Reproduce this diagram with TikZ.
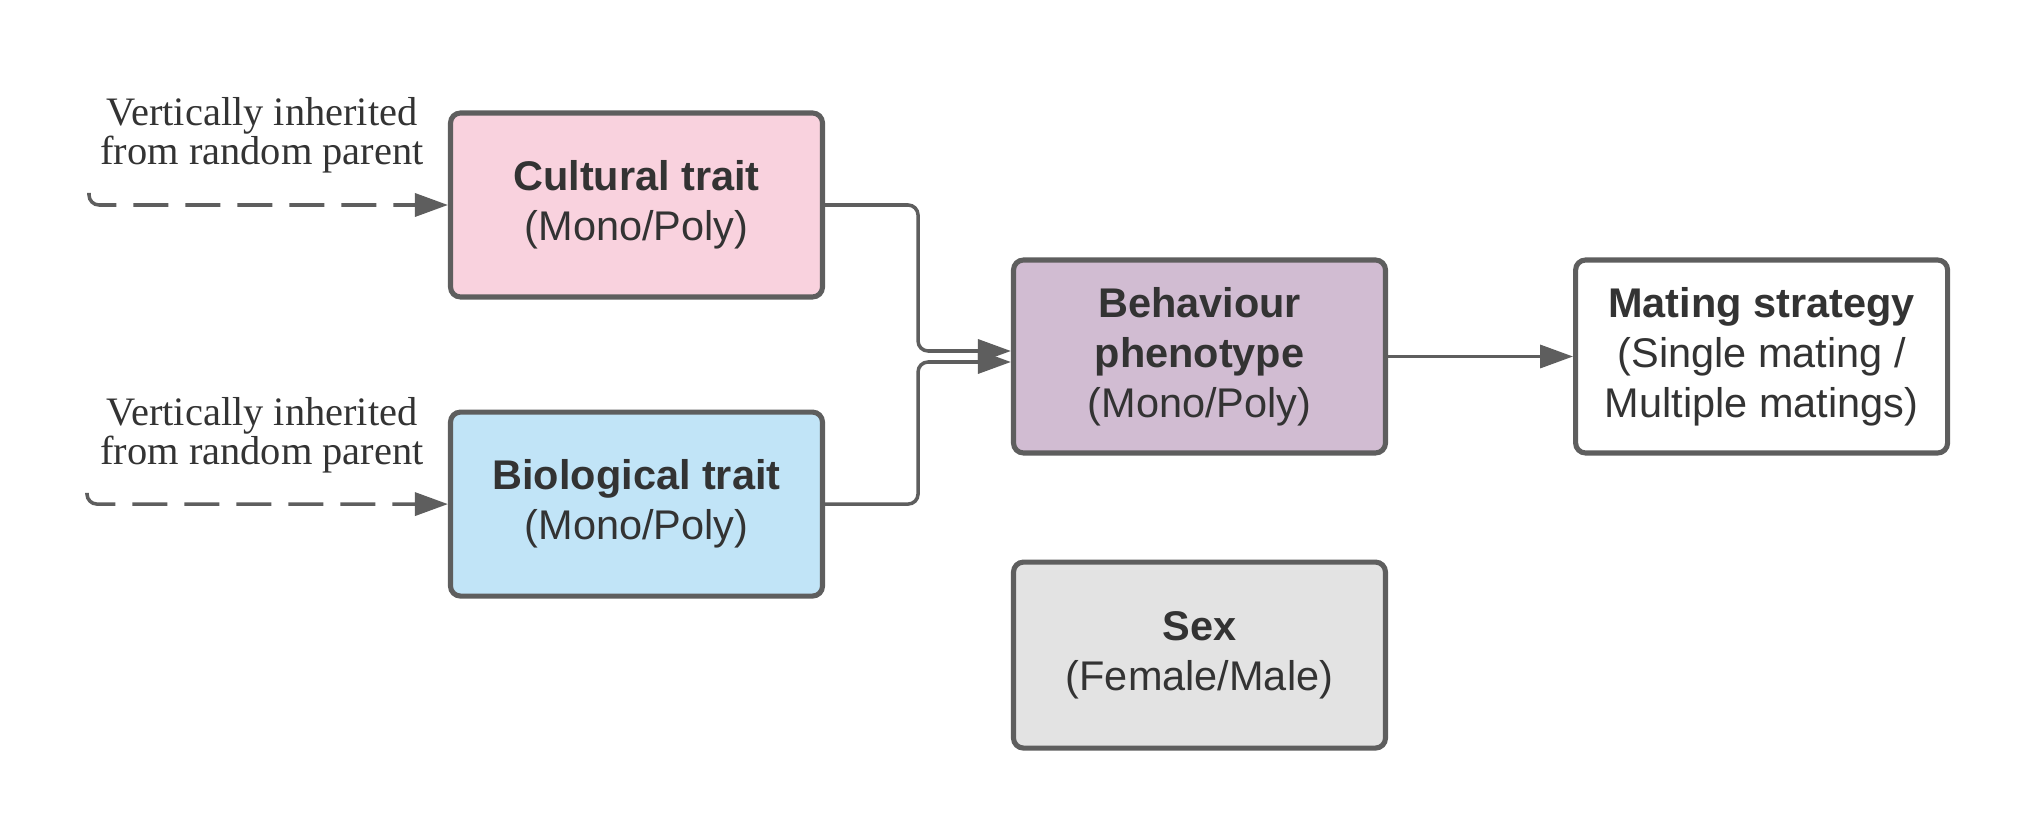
\documentclass[tikz,border=0pt]{standalone}
\usepackage{fontspec}
\setmainfont{Liberation Serif}
\setsansfont{Liberation Sans}
\usepackage{tikz}
\usetikzlibrary{arrows.meta, positioning, calc}
\definecolor{cCult}{HTML}{F9D2DE}
\definecolor{cBio}{HTML}{C1E4F7}
\definecolor{cBehav}{HTML}{D1BCD2}
\definecolor{cSex}{HTML}{E3E3E3}
\definecolor{bLine}{HTML}{5E5E5E}
\definecolor{tDark}{HTML}{333333}

\begin{document}
\begin{tikzpicture}[
    font=\sffamily\fontsize{11.8}{14.2}\selectfont,
    >={Triangle[length=3.3mm, width=2.3mm]},
    node distance=1.1cm,
    block/.style={
        draw=bLine,
        fill=#1,
        line width=1.45pt,
        rounded corners=1mm,
        align=center,
        text=tDark,
        minimum width=3.72cm,
        minimum height=1.84cm
    },
    note/.style={font=\rmfamily\fontsize{11.5}{11.2}\selectfont, text=tDark, align=center},
    arrow/.style={->, line width=1pt, color=bLine, rounded corners=1mm},
    dasharrow/.style={arrow, dash pattern=on 3.5mm off 1.7mm}
]

\useasboundingbox (0,0) rectangle (20.25,8.25);

% Inherited traits
\node[block=cCult] (cult) at (6.365, 6.2) {
    \textbf{Cultural trait}\\
    (Mono/Poly)
};

\node[block=cBio, below=1.1cm of cult] (bio) {
    \textbf{Biological trait}\\
    (Mono/Poly)
};

\node[note] (lab1) at (2.62, 6.895) {Vertically inherited\\from random parent};
\node[note] (lab2) at (2.62, 3.895) {Vertically inherited\\from random parent};

\coordinate (src1) at (0.89, 6.32);
\coordinate (src2) at (0.87, 3.32);

\draw[dasharrow] (src1) |- (cult.west);
\draw[dasharrow] (src2) |- (bio.west);

% Phenotype and outcome
\node[block=cBehav, minimum height=1.93cm] (behav) at (11.995, 4.685) {
    \textbf{Behaviour}\\
    \textbf{phenotype}\\
    (Mono/Poly)
};

\node[block=white, minimum height=1.93cm, right=1.85cm of behav] (mating) {
    \textbf{Mating strategy}\\
    (Single mating /\\
    Multiple matings)
};

\node[block=cSex, minimum height=1.86cm, below=1.04cm of behav] (sex) {
    \textbf{Sex}\\
    (Female/Male)
};

\draw[arrow] (cult.east) -- ++(0.93,0) |- ([yshift=0.055cm]behav.west);
\draw[arrow] (bio.east) -- ++(0.93,0) |- ([yshift=-0.055cm]behav.west);
\draw[arrow] (behav) -- (mating);

\end{tikzpicture}
\end{document}
